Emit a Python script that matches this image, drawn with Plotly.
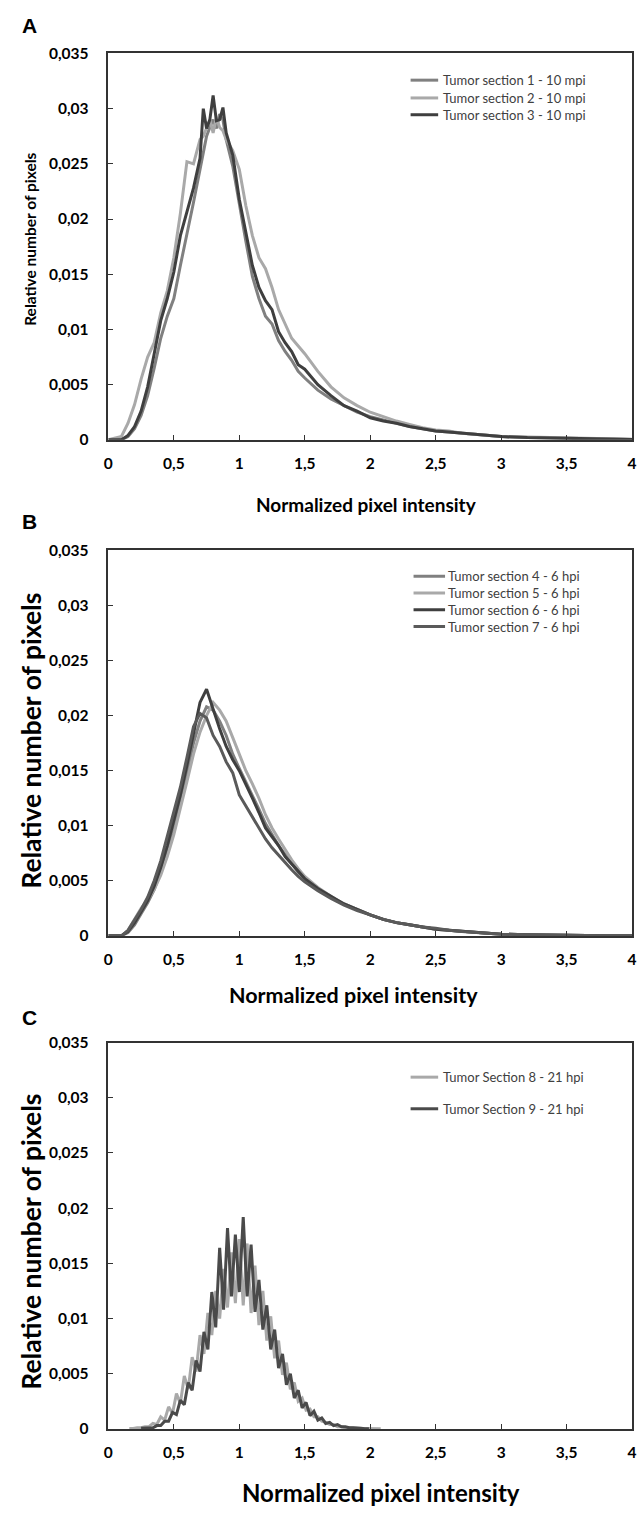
import plotly.graph_objects as go

# ---------------- data ----------------
x_tick_vals = [0, 0.5, 1, 1.5, 2, 2.5, 3, 3.5, 4]
x_tick_text = ["0", "0,5", "1", "1,5", "2", "2,5", "3", "3,5", "4"]
y_tick_vals = [0, 0.005, 0.01, 0.015, 0.02, 0.025, 0.03, 0.035]
y_tick_text = ["0", "0,005", "0,01", "0,015", "0,02", "0,025", "0,03", "0,035"]

# Panel A (10 mpi)
xA = [0, 0.1, 0.15, 0.2, 0.25, 0.3, 0.35, 0.4, 0.45, 0.5, 0.55, 0.6, 0.65, 0.7,
      0.725, 0.75, 0.775, 0.8, 0.825, 0.85, 0.875, 0.9,
      0.95, 1.0, 1.05, 1.1, 1.15, 1.2, 1.25, 1.3, 1.35, 1.4, 1.45, 1.5,
      1.6, 1.7, 1.8, 1.9, 2.0, 2.1, 2.2, 2.3, 2.4, 2.5, 2.6, 2.7, 2.8, 2.9, 3.0,
      3.2, 3.4, 3.6, 3.8, 4.0]
yA1 = [0, 0, 0.0003, 0.001, 0.0022, 0.004, 0.0065, 0.0092, 0.0112, 0.0128, 0.0158, 0.0185, 0.0215, 0.0245,
       0.0262, 0.0275, 0.0283, 0.0290, 0.0282, 0.0295, 0.0290, 0.0272,
       0.0248, 0.0212, 0.0180, 0.0148, 0.0128, 0.0112, 0.0105, 0.0090, 0.0080, 0.0072, 0.0062, 0.0056,
       0.0045, 0.0037, 0.0031, 0.0025, 0.0021, 0.0018, 0.0015, 0.0012, 0.0010, 0.0008, 0.0007, 0.0006, 0.0005, 0.0004, 0.0003,
       0.0002, 0.00015, 0.0001, 0.00006, 0.00003]
yA2 = [0, 0.0003, 0.0015, 0.0032, 0.0055, 0.0075, 0.0088, 0.0115, 0.0135, 0.0165, 0.0205, 0.0252, 0.0250, 0.0272,
       0.0275, 0.0282, 0.0290, 0.0278, 0.0292, 0.0283, 0.0280, 0.0272,
       0.0262, 0.0245, 0.0212, 0.0185, 0.0165, 0.0155, 0.0138, 0.0118, 0.0105, 0.0092, 0.0085, 0.0078,
       0.0062, 0.0048, 0.0038, 0.0031, 0.0025, 0.0021, 0.0017, 0.0014, 0.0011, 0.0009, 0.0008, 0.0006, 0.0005, 0.0004, 0.0003,
       0.00025, 0.0002, 0.0001, 0.00008, 0.00005]
yA3 = [0, 0, 0.0004, 0.0012, 0.0026, 0.0048, 0.0078, 0.0108, 0.0128, 0.0152, 0.0185, 0.0207, 0.0228, 0.0255,
       0.0300, 0.0282, 0.0290, 0.0312, 0.0289, 0.0290, 0.0301, 0.0278,
       0.0258, 0.0218, 0.0188, 0.0158, 0.0138, 0.0126, 0.0118, 0.0098, 0.0088, 0.0080, 0.0068, 0.0064,
       0.0050, 0.0040, 0.0031, 0.0026, 0.0020, 0.0017, 0.0015, 0.0012, 0.0010, 0.0008, 0.0007, 0.0006, 0.0005, 0.0004, 0.0003,
       0.0002, 0.00015, 0.0001, 0.00005, 0.00002]

# Panel B (6 hpi)
xB = [0, 0.1, 0.15, 0.2, 0.25, 0.3, 0.35, 0.4, 0.45, 0.5, 0.55, 0.6, 0.65, 0.7, 0.75, 0.8,
      0.85, 0.9, 0.95, 1.0, 1.05, 1.1, 1.15, 1.2, 1.25, 1.3, 1.35, 1.4, 1.45, 1.5,
      1.6, 1.7, 1.8, 1.9, 2.0, 2.1, 2.2, 2.3, 2.4, 2.5, 2.6, 2.7, 2.8, 2.9, 3.0,
      3.2, 3.4, 3.6, 3.8, 4.0]
yB4 = [0, 0, 0.0003, 0.001, 0.002, 0.003, 0.0042, 0.0058, 0.0078, 0.0098, 0.0122, 0.0148, 0.0175, 0.0195, 0.0208, 0.0205,
       0.0195, 0.0182, 0.0165, 0.0152, 0.0140, 0.0128, 0.0115, 0.0102, 0.0092, 0.0082, 0.0074, 0.0066, 0.0058, 0.0052,
       0.0043, 0.0035, 0.0029, 0.0024, 0.0019, 0.0015, 0.0012, 0.0010, 0.0008, 0.0006, 0.0005, 0.0004, 0.0003, 0.0002, 0.00015,
       0.0001, 0.00006, 0.00004, 0.00002, 0.00001]
yB5 = [0, 0, 0.0005, 0.0015, 0.0025, 0.0033, 0.0042, 0.0055, 0.0072, 0.0092, 0.0115, 0.0140, 0.0165, 0.0185, 0.0200, 0.0212,
       0.0205, 0.0195, 0.0180, 0.0165, 0.0150, 0.0138, 0.0125, 0.0110, 0.0098, 0.0088, 0.0078, 0.0069, 0.0061, 0.0054,
       0.0044, 0.0036, 0.0029, 0.0024, 0.0019, 0.0015, 0.0012, 0.0010, 0.0008, 0.0006, 0.0005, 0.0004, 0.0003, 0.0002, 0.00015,
       0.0001, 0.00006, 0.00004, 0.00002, 0.00001]
yB6 = [0, 0, 0.0004, 0.0012, 0.0022, 0.0032, 0.0045, 0.0062, 0.0082, 0.0105, 0.0128, 0.0155, 0.0185, 0.0212, 0.0224, 0.0205,
       0.0188, 0.0172, 0.0160, 0.0150, 0.0138, 0.0125, 0.0112, 0.0098, 0.0090, 0.0082, 0.0072, 0.0065, 0.0058, 0.0052,
       0.0043, 0.0036, 0.0029, 0.0024, 0.0019, 0.0015, 0.0012, 0.0010, 0.0008, 0.0006, 0.0005, 0.0004, 0.0003, 0.0002, 0.00015,
       0.0001, 0.00006, 0.00004, 0.00002, 0.00001]
yB7 = [0, 0, 0.0005, 0.0014, 0.0024, 0.0035, 0.005, 0.0068, 0.009, 0.0112, 0.0135, 0.0162, 0.019, 0.0202, 0.0198, 0.0182,
       0.0172, 0.0158, 0.0148, 0.0128, 0.0118, 0.0108, 0.0098, 0.0088, 0.0080, 0.0073, 0.0066, 0.0060, 0.0054, 0.0049,
       0.0041, 0.0034, 0.0028, 0.0023, 0.0019, 0.0015, 0.0012, 0.0010, 0.0008, 0.0007, 0.0005, 0.0004, 0.0003, 0.0002, 0.00015,
       0.0001, 0.00006, 0.00004, 0.00002, 0.00001]

# Panel C (21 hpi) - spiky histograms
xC8 = [0.16, 0.19, 0.22, 0.25, 0.28, 0.31, 0.34, 0.37, 0.40, 0.43, 0.46, 0.49, 0.52, 0.55, 0.58, 0.61,
       0.64, 0.67, 0.70, 0.73, 0.76, 0.79, 0.82, 0.85, 0.88, 0.91, 0.94, 0.97, 1.00, 1.03, 1.06, 1.09,
       1.12, 1.15, 1.18, 1.21, 1.24, 1.27, 1.30, 1.33, 1.36, 1.39, 1.42, 1.45, 1.48, 1.51, 1.54, 1.57,
       1.60, 1.63, 1.66, 1.69, 1.72, 1.75, 1.78, 1.81, 1.84, 1.87, 1.90, 1.93, 1.96, 1.99, 2.02, 2.05, 2.08]
yC8 = [0.00003, 0.00003, 0.0001, 0.0001, 0.0002, 0.0002, 0.0005, 0.0004, 0.0011, 0.0008, 0.0020, 0.0014, 0.0032, 0.0023, 0.0048, 0.0036,
       0.0065, 0.0052, 0.0085, 0.0068, 0.0105, 0.0085, 0.0125, 0.0100, 0.0145, 0.0110, 0.0160, 0.0114, 0.0172, 0.0112, 0.0168, 0.0105,
       0.0148, 0.0094, 0.0125, 0.0080, 0.0102, 0.0064, 0.0080, 0.0049, 0.0060, 0.0036, 0.0042, 0.0025, 0.0028, 0.0017, 0.0018, 0.0011,
       0.0011, 0.0007, 0.0006, 0.0004, 0.0004, 0.0002, 0.0002, 0.0001, 0.0001, 0.00006, 0.00006, 0.00004, 0.00004, 0.00002, 0.00002, 0.00001, 0.00001]
xC9 = [0.25, 0.28, 0.31, 0.34, 0.37, 0.40, 0.43, 0.46, 0.49, 0.52, 0.55, 0.58, 0.61, 0.64, 0.67, 0.70,
       0.73, 0.76, 0.79, 0.82, 0.85, 0.88, 0.91, 0.94, 0.97, 1.00, 1.03, 1.06, 1.09, 1.12, 1.15, 1.18,
       1.21, 1.24, 1.27, 1.30, 1.33, 1.36, 1.39, 1.42, 1.45, 1.48, 1.51, 1.54, 1.57, 1.60, 1.63, 1.66,
       1.69, 1.72, 1.75, 1.78, 1.81, 1.84, 1.87, 1.90, 1.93, 1.96, 1.99]
yC9 = [0.00005, 0.00005, 0.0001, 0.0001, 0.0003, 0.0003, 0.0007, 0.0007, 0.0015, 0.0013, 0.0026, 0.0022, 0.0042, 0.0035, 0.0062, 0.0052,
       0.0088, 0.0072, 0.0124, 0.0092, 0.0164, 0.0108, 0.0182, 0.0120, 0.0176, 0.0124, 0.0192, 0.0120, 0.0167, 0.0106, 0.0135, 0.0090,
       0.0112, 0.0072, 0.0090, 0.0055, 0.0068, 0.0040, 0.0050, 0.0028, 0.0035, 0.0019, 0.0024, 0.0012, 0.0016, 0.0008, 0.0010, 0.0005,
       0.0006, 0.0003, 0.0004, 0.0002, 0.0002, 0.0001, 0.0001, 0.00005, 0.00005, 0.00002, 0.00002]

names_A = ["Tumor section 1 - 10 mpi", "Tumor section 2 - 10 mpi", "Tumor section 3 - 10 mpi"]
names_B = ["Tumor section 4 - 6 hpi", "Tumor section 5 - 6 hpi", "Tumor section 6 - 6 hpi", "Tumor section 7 - 6 hpi"]
names_C = ["Tumor Section 8 - 21 hpi", "Tumor Section 9 - 21 hpi"]

# ---------------- styling ----------------
W, H = 643, 1513
MED, LIGHT, DARK, DARK2, DARKC = "#808080", "#a9a9a9", "#3f3f3f", "#5a5a5a", "#4a4a4a"
FONT = "Lato"
LW = 3

def py(p):  # pixel row -> paper y
    return 1 - p / H

def px(p):
    return p / W

fig = go.Figure()

def add(x, y, name, color, k):
    fig.add_trace(go.Scatter(x=x, y=y, name=name, mode="lines",
                             line=dict(color=color, width=LW),
                             xaxis="x" if k == 1 else f"x{k}",
                             yaxis="y" if k == 1 else f"y{k}",
                             showlegend=False))

add(xA, yA1, names_A[0], MED, 1)
add(xA, yA2, names_A[1], LIGHT, 1)
add(xA, yA3, names_A[2], DARK, 1)
add(xB, yB4, names_B[0], MED, 2)
add(xB, yB5, names_B[1], LIGHT, 2)
add(xB, yB6, names_B[2], DARK, 2)
add(xB, yB7, names_B[3], DARK2, 2)
add(xC8, yC8, names_C[0], LIGHT, 3)
add(xC9, yC9, names_C[1], DARKC, 3)

panels = [(44, 435), (547, 937), (1045, 1436)]  # (top px, bottom px)
x_left, x_right = 105, 637

layout = dict(width=W, height=H, margin=dict(l=0, r=0, t=0, b=0),
              paper_bgcolor="white", plot_bgcolor="white",
              font=dict(family=FONT, color="#000"), showlegend=False)

for i, (top, bot) in enumerate(panels):
    k = i + 1
    xa = "xaxis" if k == 1 else f"xaxis{k}"
    ya = "yaxis" if k == 1 else f"yaxis{k}"
    layout[xa] = dict(domain=[px(x_left), px(x_right)], range=[0, 4],
                      anchor="y" if k == 1 else f"y{k}",
                      tickvals=x_tick_vals, ticktext=x_tick_text,
                      ticks="inside", ticklen=5, tickcolor="#333", tickwidth=1,
                      showline=True, linecolor="#333", linewidth=1.5, mirror=True,
                      showgrid=False, zeroline=False, ticklabelstandoff=9,
                      tickfont=dict(family=FONT, size=15.5, color="#000", weight="bold"))
    layout[ya] = dict(domain=[py(bot), py(top)], range=[0, 0.035],
                      anchor="x" if k == 1 else f"x{k}",
                      tickvals=y_tick_vals, ticktext=y_tick_text,
                      ticks="inside", ticklen=5, tickcolor="#333", tickwidth=1,
                      showline=True, linecolor="#333", linewidth=1.5, mirror=True,
                      showgrid=False, zeroline=False, ticklabelstandoff=15,
                      tickfont=dict(family=FONT, size=15.5, color="#000", weight="bold"))

ann = []
shapes = []
# manual legends: (names, colors, line x0, line x1, text x, row centers)
legends = [
    (names_A, [MED, LIGHT, DARK], 412, 440, 443, [71, 89, 106]),
    (names_B, [MED, LIGHT, DARK, DARK2], 415, 447, 448, [573, 590, 607, 624]),
    (names_C, [LIGHT, DARKC], 412, 440, 443, [1080, 1112]),
]
for names, cols, lx0, lx1, tx, rows in legends:
    for nm, col, yc in zip(names, cols, rows):
        shapes.append(dict(type="line", xref="paper", yref="paper",
                           x0=px(lx0), x1=px(lx1), y0=py(yc), y1=py(yc),
                           line=dict(color=col, width=3)))
        ann.append(dict(text=nm, x=px(tx), y=py(yc), xref="paper", yref="paper",
                        showarrow=False, xanchor="left", yanchor="middle",
                        font=dict(family=FONT, size=13, color="#404040")))
# panel letters
for letter, yc in [("A", 16), ("B", 518), ("C", 1020)]:
    ann.append(dict(text=letter, x=px(25), y=py(yc), xref="paper", yref="paper",
                    showarrow=False, xanchor="center", yanchor="middle",
                    font=dict(family="Liberation Sans", size=21, color="#000", weight="bold")))
# axis titles
ytitles = [(26, 232, 15.5), (27, 740, 26.5), (27, 1247, 26.5)]
xtitles = [(367, 500, 19), (354, 997, 21.5), (382, 1500, 24)]
for (xc, yc, fs) in ytitles:
    ann.append(dict(text="Relative number of pixels", x=px(xc), y=py(yc), xref="paper", yref="paper",
                    showarrow=False, textangle=-90, xanchor="center", yanchor="middle",
                    font=dict(family=FONT, size=fs, color="#000", weight="bold")))
for (xc, yc, fs) in xtitles:
    ann.append(dict(text="Normalized pixel intensity", x=px(xc), y=py(yc), xref="paper", yref="paper",
                    showarrow=False, xanchor="center", yanchor="middle",
                    font=dict(family=FONT, size=fs, color="#000", weight="bold")))
layout["annotations"] = ann
layout["shapes"] = shapes

fig.update_layout(**layout)
fig.write_html("out.html")
